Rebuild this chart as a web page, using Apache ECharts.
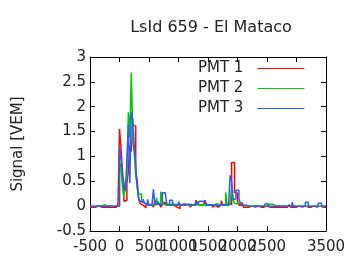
<!DOCTYPE html>
<html>
<head>
<meta charset="utf-8">
<script src="https://cdn.jsdelivr.net/npm/echarts@6/dist/echarts.min.js"></script>
<style>html,body{margin:0;padding:0;background:#fff}#c{width:360px;height:270px}</style>
</head>
<body>
<div id="c"></div>
<script>
// Trace bins: start time (ns) and width (ns)
const binStart = -500;
const binWidth = 25;
const xTicks = [-500, 0, 500, 1000, 1500, 2000, 2500, 3000, 3500];
const yTicks = [-0.5, 0, 0.5, 1, 1.5, 2, 2.5, 3];
const seriesNames = ['PMT 1', 'PMT 2', 'PMT 3'];

const pmt1 = [
  -0.02,-0.02,0,-0.02,-0.02,0,-0.02,-0.02,0,-0.02,-0.02,-0.02,0,-0.02,-0.02,-0.02,0,-0.02,-0.02,0.05,
  1.55,1.16,0.72,0.1,0.12,0.45,0.7,1.21,1.1,1.63,1.61,0.69,0.52,0.15,0.05,0.02,-0.02,-0.03,0.06,0.02,
  0.02,0.04,0,-0.02,0.12,0.03,0.06,0.02,-0.02,0.04,0.08,0.03,0.02,-0.02,0.02,0.05,0.02,0.03,-0.02,0.02,
  -0.05,0.02,0.03,0.06,0.02,0.02,0.04,0.02,-0.02,0.03,0.02,0.05,0.12,0.03,0.02,-0.02,0.04,0.02,0.12,0.03,
  0.02,0,0.03,-0.02,0.02,0.04,-0.02,0.02,0.03,0.11,0.02,0.02,0.02,0.05,0.02,0.03,0.88,0.88,0.28,0.26,
  0.1,0.02,0.02,0.08,-0.02,-0.02,0,-0.02,-0.02,0,-0.02,-0.02,-0.02,0,-0.02,-0.02,0,-0.02,-0.02,0,
  -0.02,-0.02,0,-0.02,-0.02,-0.02,0,-0.02,-0.02,-0.02,0,-0.02,-0.02,-0.02,0,0.03,-0.02,-0.02,0,-0.02,
  -0.02,0,-0.02,-0.02,-0.02,0,-0.02,-0.02,0,-0.02,-0.02,0,-0.02,-0.02,-0.02,0,-0.02,-0.02,0,-0.02
];
const pmt2 = [
  0,0,0,0,0,0,0,0,0.03,0.03,0,0,0,0,0,0,0,0,0,0,
  0.88,0.8,0.4,0.19,0.5,0.55,1.89,1.38,2.69,1.4,1.06,0.62,0.4,0.25,0.24,0.1,0.06,0.04,0.03,0.06,
  0.02,0.05,0.03,0.02,0.03,0.17,0.03,0.05,0.29,0.12,0.04,0.02,0.06,0.02,0.03,0.05,0.02,0.03,0.02,0.04,
  0.02,0.03,0.02,0.05,0.02,0.03,0.02,0.04,0.02,0.03,0.06,0.02,0.03,0.08,0.02,0.03,0.05,0.02,0.03,0.02,
  0.03,0.02,0.04,0.02,0.03,0.05,0.02,0.03,0.02,0.04,0.02,0.02,0.28,0.02,0.03,0.02,0.35,0.12,0.06,0.05,
  0.06,0.06,0.03,0.02,0.02,0.01,0,0,0.01,0,0,0.01,0,0,0.01,0,0,0,0,0.01,
  0.01,0.04,0.04,0.04,0,0,0,0.01,0,0,0,0.01,0,0,0,0,0,0,0,0,
  0,0,0,0,0,0,0,0,0,0,0.04,0,0,0,0,0,0,0,0.04,0
];
const pmt3 = [
  0,0,0,0,0,0.01,0,0,0,0,0,0,0,0.01,0,0,0,0,0,0.01,
  1.19,0.98,0.64,0.45,0.3,0.9,1.63,0.46,1.89,1.75,1.2,0.8,0.37,0.15,0.1,0.08,0.14,0.06,0.02,0.14,
  0.02,0.02,0.05,0.34,0.03,0.05,0.1,0.02,0.04,0.27,0.27,0.27,0.05,0.02,0.12,0.12,0.02,0.02,0.01,0.02,
  0.09,0.03,0.02,0.02,0.04,0.02,0.03,0.02,0.02,0.03,0.02,0.02,0.08,0.03,0.1,0.1,0.1,0.1,0.05,0.02,
  0.02,0.03,0.02,0.02,0.04,0.02,0.03,0.02,0.02,0.03,0.02,0.02,0.03,0.02,0.03,0.62,0.49,0.13,0.15,0.32,
  0.32,0.15,0.05,0.02,0.05,0.02,0,0,0,0,0,0,0,0,0,0,0,0,0,0.05,
  0.05,0,0,0,0,0,0,0,0,0.02,0,0,0,0,0,0,0,0.08,0,0,
  0,0,0,0,0,0,0.08,0.08,0,0,0,0,0,0,0,0.06,0.06,0,0,0
];
const colors = ['#ff0000', '#00c800', '#2a5cff'];

function steps(vals) {
  const d = vals.map((v, i) => [binStart + i * binWidth, v]);
  d.push([binStart + vals.length * binWidth, vals[vals.length - 1]]);
  return d;
}

const font = 'DejaVu Sans';
const axisCommon = {
  type: 'value',
  axisLine: { show: true, onZero: false, lineStyle: { color: '#000', width: 1 } },
  axisTick: { show: true, inside: true, length: 5, lineStyle: { color: '#000' } },
  splitLine: { show: false }
};

const chart = echarts.init(document.getElementById('c'), null, { renderer: 'canvas' });
chart.setOption({
  animation: false,
  backgroundColor: '#fff',
  title: {
    text: 'LsId 659 - El Mataco',
    left: 206, top: 15, textAlign: 'center',
    textStyle: { fontFamily: font, fontSize: 16, fontWeight: 'normal', color: '#222' }
  },
  grid: { left: 90, right: 34, top: 57, bottom: 39 },
  legend: {
    orient: 'vertical', align: 'right', right: 50, top: 56,
    itemWidth: 47, itemHeight: 14, itemGap: 5,
    itemStyle: { opacity: 0 },
    lineStyle: { width: 1.2 },
    textStyle: { fontFamily: font, fontSize: 15, color: '#222', padding: [0, 9, 0, 0] },
    data: seriesNames
  },
  xAxis: [
    Object.assign({}, axisCommon, {
      min: xTicks[0], max: xTicks[xTicks.length - 1], interval: 500, position: 'bottom',
      axisLabel: { fontFamily: font, fontSize: 15, color: '#222', margin: 9,
        showMinLabel: true, showMaxLabel: true, formatter: v => String(v) }
    }),
    Object.assign({}, axisCommon, {
      min: xTicks[0], max: xTicks[xTicks.length - 1], interval: 500, position: 'top',
      axisLabel: { show: false }
    })
  ],
  yAxis: [
    Object.assign({}, axisCommon, {
      min: yTicks[0], max: yTicks[yTicks.length - 1], interval: 0.5, position: 'left',
      name: 'Signal [VEM]', nameLocation: 'middle', nameGap: 64,
      nameTextStyle: { fontFamily: font, fontSize: 15, color: '#222' },
      axisLabel: { fontFamily: font, fontSize: 15, color: '#222', margin: 4, formatter: v => String(v) }
    }),
    Object.assign({}, axisCommon, {
      min: yTicks[0], max: yTicks[yTicks.length - 1], interval: 0.5, position: 'right',
      axisLabel: { show: false }
    })
  ],
  series: [pmt1, pmt2, pmt3].map((vals, k) => ({
    name: seriesNames[k],
    type: 'line',
    step: 'end',
    symbol: 'none',
    data: steps(vals),
    itemStyle: { color: colors[k] },
    lineStyle: { color: colors[k], width: 1.5 }
  }))
});
</script>
</body>
</html>
